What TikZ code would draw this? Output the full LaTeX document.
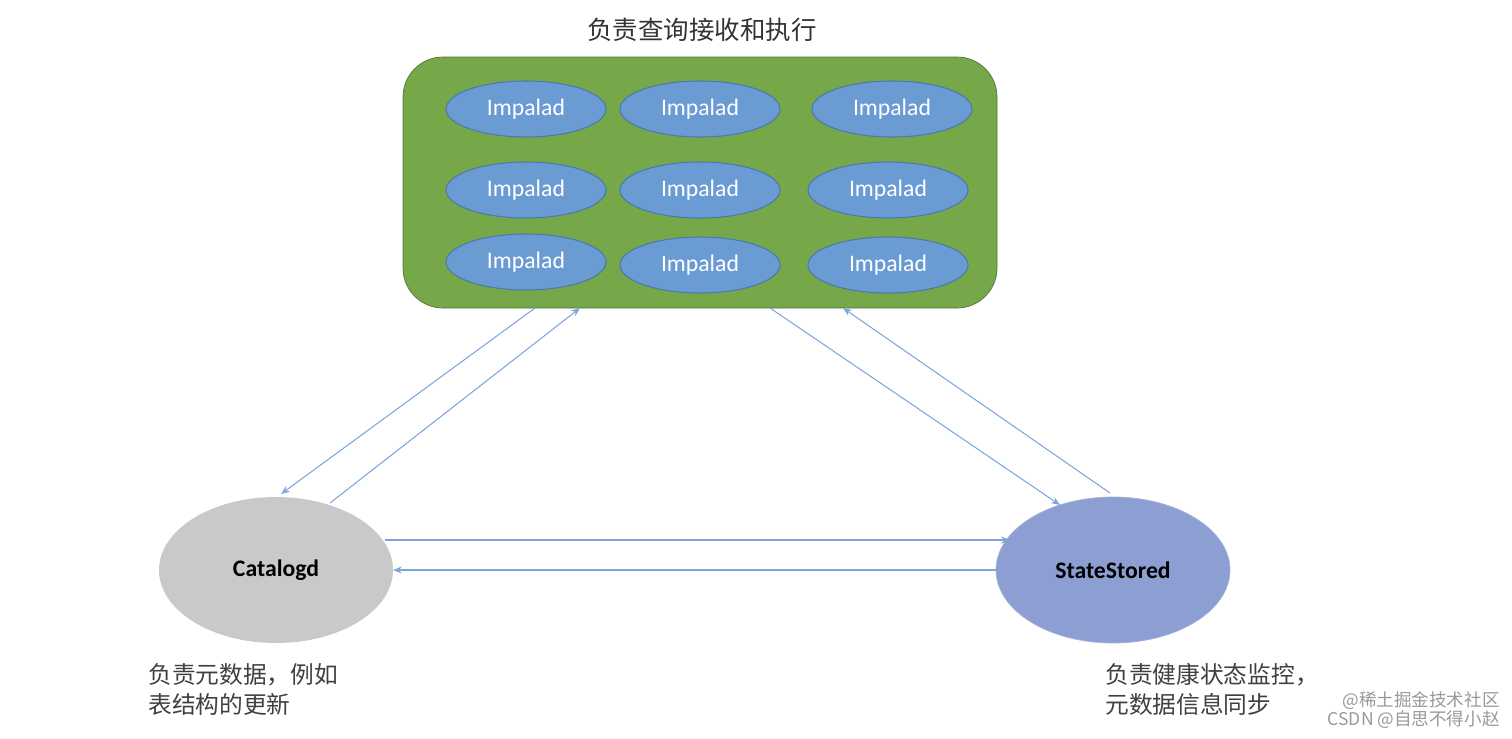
\documentclass[tikz,border=0pt]{standalone}
\usepackage{fontspec}
\setmainfont{Carlito}
\newfontfamily\cjk{Noto Sans CJK SC}
\usetikzlibrary{arrows.meta,shapes.geometric}
\definecolor{boxg}{HTML}{76A84A}
\definecolor{imp}{HTML}{6A9BD3}
\definecolor{impb}{HTML}{4A78B0}
\definecolor{ss}{HTML}{8D9ED3}
\definecolor{ln}{HTML}{7EA6DC}
\begin{document}
\begin{tikzpicture}[x=0.02cm,y=-0.02cm,
  imp/.style={ellipse,draw=impb,fill=imp,line width=0.6pt,minimum width=160*0.02cm,minimum height=56*0.02cm,inner sep=0pt,text=white,font=\fontsize{13.5}{14}\selectfont},
  big/.style={ellipse,minimum width=234*0.02cm,minimum height=146*0.02cm,inner sep=0pt,font=\fontsize{13.5}{14}\selectfont\bfseries},
  con/.style={draw=ln,line width=0.6pt,-{Stealth[length=5pt,width=4pt]}},
  lbl/.style={font=\cjk\fontsize{13.5}{17}\selectfont,text=black!75,align=left,anchor=north west,inner sep=0pt},
]
\useasboundingbox (0,0) rectangle (1512,738);
\node[draw=boxg!70!black,fill=boxg,rounded corners=0.8cm,minimum width=594*0.02cm,minimum height=251*0.02cm] (box) at (700,182.5) {};
\node[font=\cjk\fontsize{14.5}{17}\selectfont,text=black!80] (title) at (702,30) {负责查询接收和执行};
\node[imp] (i1) at (526,109) {Impalad};
\node[imp] (i2) at (700,109) {Impalad};
\node[imp] (i3) at (892,109) {Impalad};
\node[imp] (i4) at (526,190) {Impalad};
\node[imp] (i5) at (700,190) {Impalad};
\node[imp] (i6) at (888,190) {Impalad};
\node[imp] (i7) at (526,262) {Impalad};
\node[imp] (i8) at (700,265) {Impalad};
\node[imp] (i9) at (888,265) {Impalad};
\node[big,fill=black!21] (cat) at (276,570) {Catalogd};
\node[big,fill=ss,draw=ss!80!white] (ss) at (1113,570) {StateStored};
\coordinate (b1) at (535,308); \coordinate (c1) at (281,494);
\coordinate (c2) at (330,503); \coordinate (b2) at (580,308);
\coordinate (b3) at (770,308); \coordinate (s1) at (1060,505);
\coordinate (s2) at (1110,493); \coordinate (b4) at (843,308);
\coordinate (c3) at (385,540); \coordinate (s3) at (1010,540);
\coordinate (s4) at (1000,570); \coordinate (c4) at (393,570);
\draw[con] (b1) -- (c1);
\draw[con] (c2) -- (b2);
\draw[con] (b3) -- (s1);
\draw[con] (s2) -- (b4);
\draw[con] (c3) -- (s3);
\draw[con] (s4) -- (c4);
\node[lbl] (lt) at (148,663) {负责元数据，例如\\表结构的更新};
\node[lbl] (rt) at (1105,663) {负责健康状态监控，\\元数据信息同步};
\node[font=\cjk\fontsize{10}{11}\selectfont,text=black!40,align=right,anchor=south east,inner sep=0pt] (wm) at (1500,729) {@稀土掘金技术社区\\CSDN @自思不得小赵};
\end{tikzpicture}
\end{document}
